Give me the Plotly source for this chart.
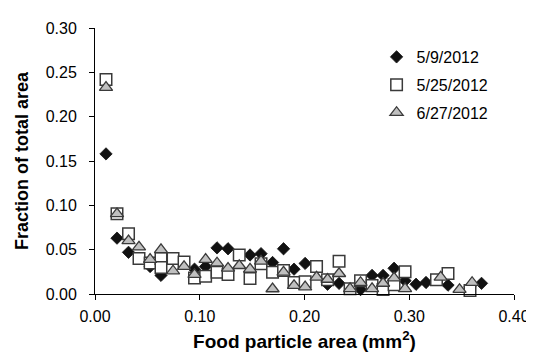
import plotly.graph_objects as go

# 5/9/2012 (filled black diamonds)
x_may9 = [0.0105, 0.021, 0.032, 0.0526, 0.063, 0.095, 0.1056, 0.1165, 0.127, 0.148, 0.1585,
          0.1695, 0.180, 0.190, 0.2006, 0.222, 0.233, 0.2535, 0.2645, 0.275, 0.2855, 0.296,
          0.3065, 0.316, 0.337, 0.358, 0.369]
y_may9 = [0.158, 0.063, 0.047, 0.031, 0.021, 0.028, 0.031, 0.052, 0.051, 0.044, 0.0455,
          0.0355, 0.051, 0.028, 0.0345, 0.011, 0.012, 0.005, 0.021, 0.021, 0.029, 0.015,
          0.011, 0.013, 0.010, 0.008, 0.012]

# 5/25/2012 (open squares)
x_may25 = [0.0105, 0.021, 0.032, 0.042, 0.0526, 0.063, 0.063, 0.0745, 0.085, 0.095, 0.1056,
           0.1165, 0.127, 0.1377, 0.148, 0.1585, 0.1695, 0.180, 0.190, 0.2006, 0.2115, 0.222,
           0.233, 0.2435, 0.2535, 0.2645, 0.275, 0.2855, 0.296, 0.326, 0.337, 0.358]
y_may25 = [0.242, 0.0905, 0.068, 0.040, 0.035, 0.040, 0.030, 0.040, 0.036, 0.018, 0.020,
           0.0246, 0.022, 0.044, 0.0174, 0.034, 0.0246, 0.0264, 0.013, 0.0138, 0.031, 0.016,
           0.037, 0.006, 0.015, 0.0095, 0.005, 0.0105, 0.025, 0.016, 0.023, 0.004]

# 6/27/2012 (grey triangles)
x_jun27 = [0.0105, 0.021, 0.032, 0.042, 0.0526, 0.063, 0.0745, 0.085, 0.095, 0.1056, 0.1165,
           0.127, 0.1377, 0.148, 0.1585, 0.1695, 0.180, 0.190, 0.2006, 0.2115, 0.222, 0.233,
           0.2435, 0.2535, 0.2645, 0.275, 0.2855, 0.296, 0.330, 0.348, 0.360]
y_jun27 = [0.233, 0.0905, 0.060, 0.053, 0.039, 0.050, 0.026, 0.031, 0.022, 0.039, 0.035,
           0.029, 0.032, 0.028, 0.037, 0.0058, 0.0246, 0.0095, 0.008, 0.019, 0.0165, 0.023,
           0.006, 0.013, 0.006, 0.012, 0.018, 0.006, 0.019, 0.005, 0.013]

series_names = ["5/9/2012", "5/25/2012", "6/27/2012"]
x_ticks = [0.0, 0.1, 0.2, 0.3, 0.4]
y_ticks = [0.0, 0.05, 0.10, 0.15, 0.20, 0.25, 0.30]

FONT = "Liberation Sans, Arial, sans-serif"

fig = go.Figure()
fig.add_trace(go.Scatter(
    x=x_may9, y=y_may9, mode="markers", name=series_names[0], legendgroup="a",
    cliponaxis=False,
    marker=dict(symbol="diamond", size=9.5, color="#111111",
                line=dict(color="#111111", width=0.8))))
fig.add_trace(go.Scatter(
    x=x_may25, y=y_may25, mode="markers", name=series_names[1], legendgroup="b",
    cliponaxis=False,
    marker=dict(symbol="square", size=11.5, color="#ffffff",
                line=dict(color="#3a3a3a", width=1.5))))
fig.add_trace(go.Scatter(
    x=x_jun27, y=y_jun27, mode="markers", name=series_names[2], legendgroup="c",
    cliponaxis=False,
    marker=dict(symbol="triangle-up", size=11.5, color="#c0c0c0",
                line=dict(color="#3a3a3a", width=1.3))))

axis_common = dict(showline=True, linecolor="black", linewidth=1, ticks="outside",
                   ticklen=5, tickcolor="black", tickwidth=1, showgrid=False,
                   zeroline=False, tickformat=".2f",
                   tickfont=dict(family=FONT, size=16, color="black"))

fig.update_layout(
    width=534, height=353, autosize=False,
    margin=dict(l=87, r=19, t=15, b=62),
    paper_bgcolor="white", plot_bgcolor="white",
    font=dict(family=FONT, color="black"),
    xaxis=dict(range=[0, 0.40], tickvals=x_ticks, ticklabelstandoff=3, **axis_common,
               title=dict(text="<b>Food particle area (mm<sup>2</sup>)</b>",
                          font=dict(family=FONT, size=19, color="black"), standoff=10)),
    yaxis=dict(range=[0, 0.30], tickvals=y_ticks, ticklabelstandoff=9, **axis_common,
               title=dict(text="<b>Fraction of total area</b>",
                          font=dict(family=FONT, size=18, color="black"), standoff=12)),
    legend=dict(x=0.672, y=0.955, xanchor="left", yanchor="top",
                bgcolor="rgba(0,0,0,0)", font=dict(family=FONT, size=16, color="black"),
                traceorder="grouped", tracegroupgap=4, itemwidth=30),
    showlegend=True,
)

fig.write_html("out.html")
